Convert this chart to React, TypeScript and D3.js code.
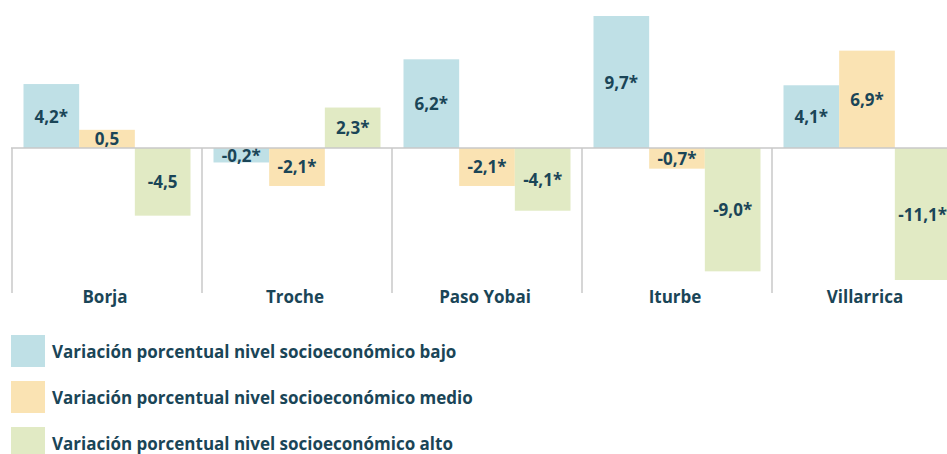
import React from "react";
import * as d3 from "d3";

const categories = ["Borja", "Troche", "Paso Yobai", "Iturbe", "Villarrica"];
const seriesNames = [
  "Variación porcentual nivel socioeconómico bajo",
  "Variación porcentual nivel socioeconómico medio",
  "Variación porcentual nivel socioeconómico alto",
];
const bajo = [4.2, -0.2, 6.2, 9.7, 4.1];
const medio = [0.5, -2.1, -2.1, -0.7, 6.9];
const alto = [-4.5, 2.3, -4.1, -9.0, -11.1];
const significant = [
  [true, true, true, true, true],
  [false, true, true, true, true],
  [false, true, true, true, true],
];
const colors = ["#bfe0e6", "#fae3b3", "#e1eac4"];

const W = 947;
const H = 454;
const TEXT = "#1a4557";
const FONT = "'Open Sans', 'Noto Sans', sans-serif";
const FS = 17;

const locale = d3.formatLocale({
  decimal: ",",
  thousands: ".",
  grouping: [3],
  currency: ["", ""],
  minus: "-",
});

export default function App() {
  const values = [bajo, medio, alto];
  const zeroY = 148;
  const x = d3.scaleBand<string>().domain(categories).range([12, 962]).padding(0);
  const xi = d3
    .scaleBand<number>()
    .domain([0, 1, 2])
    .range([11.5, x.bandwidth() - 11.5])
    .padding(0);
  // magnitude scale (bars in the reference are not strictly proportional)
  const mag = d3.scaleLinear().domain([0, 9.7]).range([12, 132]).clamp(true);
  const fmt = locale.format(".1f");

  return (
    <svg width={W} height={H} style={{ display: "block", position: "absolute", left: 0, top: 0 }}>
      {categories.map((c, ci) => (
        <g key={c} transform={`translate(${x(c)},0)`}>
          {values.map((vals, si) => {
            const v = vals[ci];
            const h = mag(Math.abs(v));
            const y = v >= 0 ? zeroY - h : zeroY;
            const bx = xi(si)!;
            return (
              <g key={si}>
                <rect x={bx} y={y} width={xi.bandwidth()} height={h} fill={colors[si]} />
                <text
                  x={bx + xi.bandwidth() / 2}
                  y={y + h / 2}
                  textAnchor="middle"
                  dominantBaseline="central"
                  fontFamily={FONT}
                  fontWeight={700}
                  fontSize={FS}
                  fill={TEXT}
                >
                  {fmt(v) + (significant[si][ci] ? "*" : "")}
                </text>
              </g>
            );
          })}
        </g>
      ))}
      <line x1={11} x2={W} y1={zeroY} y2={zeroY} stroke="#c8c8c8" strokeWidth={1.5} />
      {categories.map((c) => (
        <line key={c} x1={x(c)!} x2={x(c)!} y1={zeroY} y2={293} stroke="#c8c8c8" strokeWidth={1.5} />
      ))}
      {categories.map((c) => (
        <text
          key={c}
          x={x(c)! + x.bandwidth() / 2 - 2}
          y={296}
          textAnchor="middle"
          dominantBaseline="central"
          fontFamily={FONT}
          fontWeight={700}
          fontSize={FS}
          fill={TEXT}
        >
          {c}
        </text>
      ))}
      {seriesNames.map((s, i) => (
        <g key={s} transform={`translate(11,${335 + i * 46})`}>
          <rect x={0} y={0} width={34} height={32} fill={colors[i]} />
          <text
            x={41}
            y={16}
            dominantBaseline="central"
            fontFamily={FONT}
            fontWeight={700}
            fontSize={FS}
            fill={TEXT}
          >
            {s}
          </text>
        </g>
      ))}
    </svg>
  );
}
